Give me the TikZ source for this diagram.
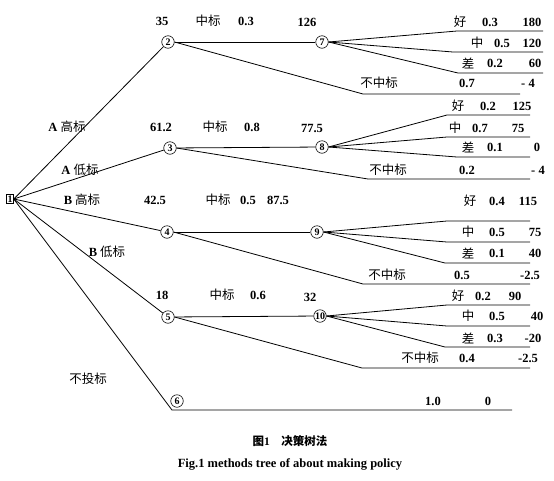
\documentclass[tikz,border=0pt]{standalone}
\usepackage{fontspec}
\setmainfont{Liberation Serif}
\newfontfamily\cjk{Noto Sans CJK SC}
\usetikzlibrary{
    positioning
}

\begin{document}
\begin{tikzpicture}[
    x=1pt, y=-1pt,
    branch/.style={line width=0.8pt},
    chance/.style={circle, draw, line width=0.6pt, inner sep=0pt,
        minimum size=12.5pt, font=\bfseries\fontsize{10}{10}\selectfont},
    decision/.style={draw, line width=0.6pt, inner sep=1pt,
        font=\bfseries\fontsize{10}{10}\selectfont},
    num/.style={inner sep=0pt, font=\bfseries\fontsize{12.5}{12.5}\selectfont},
    zh/.style={inner sep=0pt, font=\cjk\fontsize{12.5}{12.5}\selectfont}
]
\useasboundingbox (0,0) rectangle (554,480);

% decision and chance nodes
\node[decision] (n1) at (10,199) {1};
\node[chance] (n2) at (168,42) {2};
\node[chance] (n3) at (170,148) {3};
\node[chance] (n4) at (167,232) {4};
\node[chance] (n5) at (168,317) {5};
\node[chance] (n6) at (177,401) {6};
\node[chance] (n7) at (322,42) {7};
\node[chance] (n8) at (322,147) {8};
\node[chance] (n9) at (317,232) {9};
\node[chance] (n10) at (320,316) {10};

% corners and ends of the branches
\coordinate (c6) at (172,410);  \coordinate (e6) at (512,410);
\coordinate (cf2) at (363,94);  \coordinate (ef2) at (520,94);
\coordinate (cf3) at (368,179); \coordinate (ef3) at (530,179);
\coordinate (cf4) at (363,284); \coordinate (ef4) at (530,284);
\coordinate (cf5) at (362,368); \coordinate (ef5) at (530,368);
\coordinate (cg7) at (457,31);  \coordinate (eg7) at (543,31);
\coordinate (cm7) at (453,52);  \coordinate (em7) at (543,52);
\coordinate (cb7) at (458,73);  \coordinate (eb7) at (543,73);
\coordinate (cg8) at (447,115); \coordinate (eg8) at (530,115);
\coordinate (cm8) at (447,137); \coordinate (em8) at (530,137);
\coordinate (cb8) at (457,157); \coordinate (eb8) at (530,157);
\coordinate (cg9) at (447,221); \coordinate (eg9) at (530,221);
\coordinate (cm9) at (447,242); \coordinate (em9) at (530,242);
\coordinate (cb9) at (445,263); \coordinate (eb9) at (530,263);
\coordinate (cg10) at (447,305); \coordinate (eg10) at (530,305);
\coordinate (cm10) at (447,326); \coordinate (em10) at (530,326);
\coordinate (cb10) at (445,347); \coordinate (eb10) at (530,347);

% first stage
\draw[branch] (n1.east) -- (n2);
\draw[branch] (n1.east) -- (n3);
\draw[branch] (n1.east) -- (n4);
\draw[branch] (n1.east) -- (n5);
\draw[branch] (n1.east) -- (c6) -- (e6);

% second stage
\draw[branch] (n2) -- (n7);
\draw[branch] (n3) -- (n8);
\draw[branch] (n4) -- (n9);
\draw[branch] (n5) -- (n10);
\draw[branch] (n2.east) -- (cf2) -- (ef2);
\draw[branch] (n3.east) -- (cf3) -- (ef3);
\draw[branch] (n4.east) -- (cf4) -- (ef4);
\draw[branch] (n5.east) -- (cf5) -- (ef5);

% outcomes
\draw[branch] (n7.east) -- (cg7) -- (eg7);
\draw[branch] (n7.east) -- (cm7) -- (em7);
\draw[branch] (n7.east) -- (cb7) -- (eb7);
\draw[branch] (n8.east) -- (cg8) -- (eg8);
\draw[branch] (n8.east) -- (cm8) -- (em8);
\draw[branch] (n8.east) -- (cb8) -- (eb8);
\draw[branch] (n9.east) -- (cg9) -- (eg9);
\draw[branch] (n9.east) -- (cm9) -- (em9);
\draw[branch] (n9.east) -- (cb9) -- (eb9);
\draw[branch] (n10.east) -- (cg10) -- (eg10);
\draw[branch] (n10.east) -- (cm10) -- (em10);
\draw[branch] (n10.east) -- (cb10) -- (eb10);

% options
\node[num] (ah) at (67,127) {A {\cjk\mdseries 高标}};
\node[num] (al) at (80,170) {A {\cjk\mdseries 低标}};
\node[num] (bh) at (82,200) {B {\cjk\mdseries 高标}};
\node[num] (bl) at (107,252) {B {\cjk\mdseries 低标}};
\node[zh] (nb) at (88,379) {不投标};

% expected values and win probabilities
\node[num] (v2) at (162,21) {35};
\node[zh] (w2) at (208,21) {中标};
\node[num] (p2) at (246,21) {0.3};
\node[num] (v7) at (307,22) {126};
\node[num] (v3) at (161,127) {61.2};
\node[zh] (w3) at (215,127) {中标};
\node[num] (p3) at (252,127) {0.8};
\node[num] (v8) at (312,128) {77.5};
\node[num] (v4) at (155,200) {42.5};
\node[zh] (w4) at (218,200) {中标};
\node[num] (p4) at (248,200) {0.5};
\node[num] (v9) at (278,200) {87.5};
\node[num] (v5) at (162,295) {18};
\node[zh] (w5) at (222,295) {中标};
\node[num] (p5) at (258,295) {0.6};
\node[num] (v10) at (310,297) {32};

% node 7
\node[zh] (g7) at (460,22) {好};
\node[num] (g7p) at (490,22) {0.3};
\node[num] (g7v) at (532,22) {180};
\node[zh] (m7) at (477,43) {中};
\node[num] (m7p) at (502,43) {0.5};
\node[num] (m7v) at (532,43) {120};
\node[zh] (b7) at (468,63) {差};
\node[num] (b7p) at (495,63) {0.2};
\node[num] (b7v) at (535,63) {60};
\node[zh] (f2) at (379,83) {不中标};
\node[num] (f2p) at (467,83) {0.7};
\node[num] (f2v) at (528,83) {- 4};

% node 8
\node[zh] (g8) at (458,106) {好};
\node[num] (g8p) at (488,106) {0.2};
\node[num] (g8v) at (522,106) {125};
\node[zh] (m8) at (455,128) {中};
\node[num] (m8p) at (480,128) {0.7};
\node[num] (m8v) at (518,128) {75};
\node[zh] (b8) at (468,147) {差};
\node[num] (b8p) at (495,147) {0.1};
\node[num] (b8v) at (537,147) {0};
\node[zh] (f3) at (388,170) {不中标};
\node[num] (f3p) at (467,170) {0.2};
\node[num] (f3v) at (538,170) {- 4};

% node 9
\node[zh] (g9) at (470,201) {好};
\node[num] (g9p) at (497,201) {0.4};
\node[num] (g9v) at (528,201) {115};
\node[zh] (m9) at (468,232) {中};
\node[num] (m9p) at (497,232) {0.5};
\node[num] (m9v) at (535,232) {75};
\node[zh] (b9) at (468,253) {差};
\node[num] (b9p) at (497,253) {0.1};
\node[num] (b9v) at (535,253) {40};
\node[zh] (f4) at (387,275) {不中标};
\node[num] (f4p) at (462,275) {0.5};
\node[num] (f4v) at (530,275) {-2.5};

% node 10
\node[zh] (g10) at (458,296) {好};
\node[num] (g10p) at (483,296) {0.2};
\node[num] (g10v) at (515,296) {90};
\node[zh] (m10) at (468,316) {中};
\node[num] (m10p) at (497,316) {0.5};
\node[num] (m10v) at (537,316) {40};
\node[zh] (b10) at (468,338) {差};
\node[num] (b10p) at (495,338) {0.3};
\node[num] (b10v) at (533,338) {-20};
\node[zh] (f5) at (420,358) {不中标};
\node[num] (f5p) at (467,358) {0.4};
\node[num] (f5v) at (528,358) {-2.5};

% no bid
\node[num] (f6p) at (433,401) {1.0};
\node[num] (f6v) at (488,401) {0};

% caption
\node[inner sep=0pt, font=\bfseries\fontsize{11.5}{11.5}\selectfont] (cap) at (290,441)
    {{\cjk 图}1\quad{\cjk 决策树法}};
\node[inner sep=0pt, font=\bfseries\fontsize{12.5}{12.5}\selectfont] (capen) at (290,464)
    {Fig.1 methods tree of about making policy};

\end{tikzpicture}
\end{document}
